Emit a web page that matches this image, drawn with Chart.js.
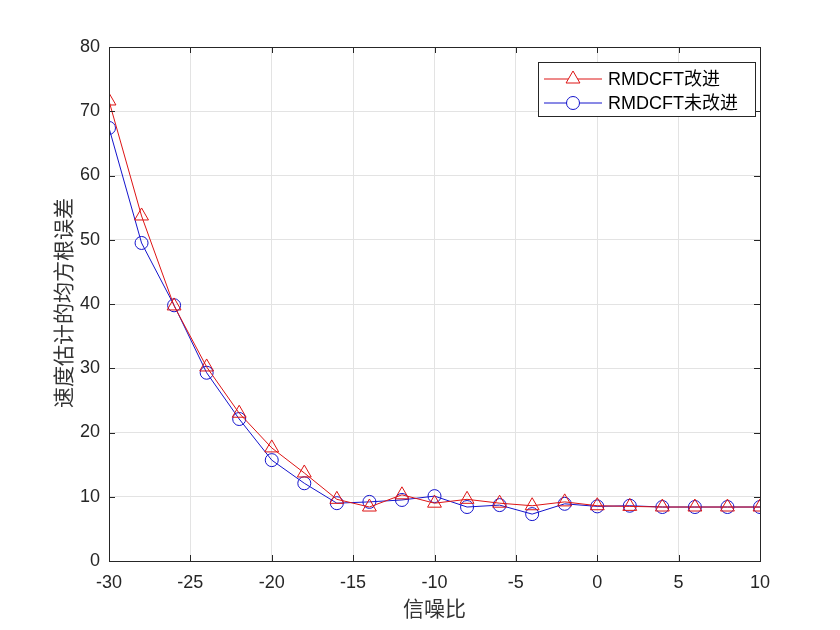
<!DOCTYPE html>
<html>
<head>
<meta charset="utf-8">
<script src="https://cdn.jsdelivr.net/npm/chart.js@4/dist/chart.umd.min.js"></script>
<style>
  html, body { margin: 0; padding: 0; background: #fff; }
  #wrap { width: 840px; height: 630px; }
</style>
</head>
<body>
<div id="wrap"><canvas id="chart" width="840" height="630"></canvas></div>
<script>
// 数据：信噪比 vs 速度估计均方根误差
const snr = [-30, -28, -26, -24, -22, -20, -18, -16, -14, -12, -10, -8, -6, -4, -2, 0, 2, 4, 6, 8, 10];
const improved = [71.6, 53.7, 39.7, 30.2, 23.0, 17.6, 13.7, 9.6, 8.4, 10.3, 9.0, 9.6, 9.0, 8.6, 9.2, 8.6, 8.5, 8.4, 8.4, 8.4, 8.4];
const original = [67.4, 49.5, 39.8, 29.3, 22.1, 15.7, 12.1, 9.0, 9.2, 9.5, 10.1, 8.4, 8.7, 7.3, 8.9, 8.5, 8.6, 8.4, 8.4, 8.4, 8.4];
const xTicks = [-30, -25, -20, -15, -10, -5, 0, 5, 10];
const yTicks = [0, 10, 20, 30, 40, 50, 60, 70, 80];
const labels = ['RMDCFT改进', 'RMDCFT未改进'];

const RED = '#dd1414';
const BLUE = '#1414cc';
const tickFont = { family: 'Liberation Sans, Arial, sans-serif', size: 18 };

// 坐标框、内向刻度、轴标题和图例
const matlabBox = {
  id: 'matlabBox',
  afterDraw(chart) {
    const { ctx, chartArea: a, scales: { x, y } } = chart;
    ctx.save();
    ctx.strokeStyle = '#262626';
    ctx.lineWidth = 1;
    ctx.strokeRect(a.left + 0.5, a.top + 0.5, a.right - a.left, a.bottom - a.top);
    ctx.beginPath();
    const tl = 6;
    xTicks.forEach(v => {
      const px = Math.round(x.getPixelForValue(v)) + 0.5;
      ctx.moveTo(px, a.bottom); ctx.lineTo(px, a.bottom - tl);
      ctx.moveTo(px, a.top); ctx.lineTo(px, a.top + tl);
    });
    yTicks.forEach(v => {
      const py = Math.round(y.getPixelForValue(v)) + 0.5;
      ctx.moveTo(a.left, py); ctx.lineTo(a.left + tl, py);
      ctx.moveTo(a.right, py); ctx.lineTo(a.right - tl, py);
    });
    ctx.stroke();

    // 轴标题
    ctx.fillStyle = '#333';
    ctx.font = '21px "Noto Sans CJK SC", sans-serif';
    ctx.textAlign = 'center';
    ctx.textBaseline = 'middle';
    ctx.fillText('信噪比', (a.left + a.right) / 2, 608);
    ctx.save();
    ctx.translate(63, 303);
    ctx.rotate(-Math.PI / 2);
    ctx.fillText('速度估计的均方根误差', 0, 0);
    ctx.restore();

    // 图例
    const lx = 538, ly = 62, lw = 217, lh = 54;
    ctx.fillStyle = '#fff';
    ctx.fillRect(lx, ly, lw, lh);
    ctx.strokeStyle = '#262626';
    ctx.strokeRect(lx + 0.5, ly + 0.5, lw, lh);
    ctx.font = '18px "Liberation Sans", "Noto Sans CJK SC", sans-serif';
    ctx.textAlign = 'left';
    chart.data.datasets.forEach((ds, i) => {
      const ry = 79 + i * 24;
      ctx.strokeStyle = ds.borderColor;
      ctx.lineWidth = 1;
      ctx.beginPath();
      ctx.moveTo(544, ry); ctx.lineTo(602, ry);
      ctx.stroke();
      ctx.fillStyle = '#fff';
      Chart.helpers.drawPoint(ctx, {
        pointStyle: ds.pointStyle, radius: ds.pointRadius, borderWidth: 1
      }, 573, ry);
      ctx.fillStyle = '#000';
      ctx.fillText(ds.label, 608, ry + 1);
    });
    ctx.restore();
  }
};

new Chart(document.getElementById('chart'), {
  type: 'line',
  data: {
    datasets: [
      {
        label: labels[0],
        data: snr.map((v, i) => ({ x: v, y: improved[i] })),
        borderColor: RED,
        borderWidth: 1,
        pointStyle: 'triangle',
        pointRadius: 8,
        pointBorderColor: RED,
        pointBackgroundColor: 'rgba(0,0,0,0)',
        pointBorderWidth: 1,
        tension: 0
      },
      {
        label: labels[1],
        data: snr.map((v, i) => ({ x: v, y: original[i] })),
        borderColor: BLUE,
        borderWidth: 1,
        pointStyle: 'circle',
        pointRadius: 6.5,
        pointBorderColor: BLUE,
        pointBackgroundColor: 'rgba(0,0,0,0)',
        pointBorderWidth: 1,
        tension: 0
      }
    ]
  },
  options: {
    responsive: false,
    animation: false,
    devicePixelRatio: 1,
    layout: { padding: { left: 0, right: 80, top: 47, bottom: 0 } },
    plugins: { legend: { display: false }, tooltip: { enabled: false } },
    scales: {
      x: {
        type: 'linear',
        min: -30, max: 10,
        afterFit(s) { s.height = 69; },
        afterBuildTicks(s) { s.ticks = xTicks.map(v => ({ value: v })); },
        grid: { color: '#e3e3e3', drawTicks: false },
        border: { display: false },
        ticks: { color: '#262626', font: tickFont, padding: 11, maxRotation: 0 }
      },
      y: {
        min: 0, max: 80,
        afterFit(s) { s.width = 109; },
        afterBuildTicks(s) { s.ticks = yTicks.map(v => ({ value: v })); },
        grid: { color: '#e3e3e3', drawTicks: false },
        border: { display: false },
        ticks: { color: '#262626', font: tickFont, padding: 9 }
      }
    }
  },
  plugins: [matlabBox]
});
</script>
</body>
</html>
